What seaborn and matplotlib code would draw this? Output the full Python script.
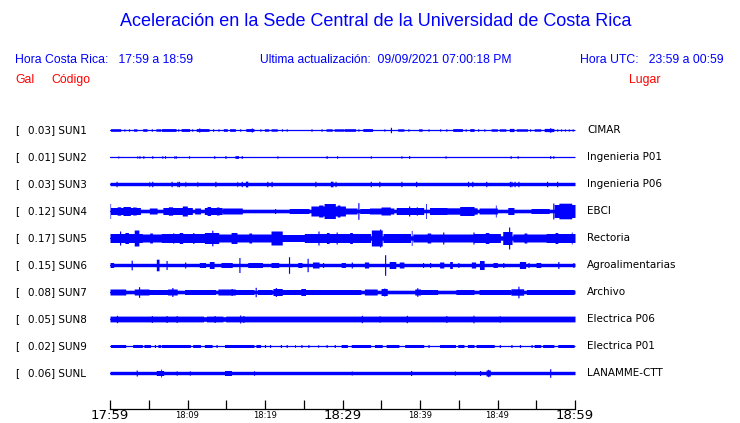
import numpy as np
import pandas as pd
import matplotlib
matplotlib.use("Agg")
import matplotlib.pyplot as plt
import seaborn as sns

# ---------------- data ----------------
title = "Aceleración en la Sede Central de la Universidad de Costa Rica"
hdr_local = "Hora Costa Rica:   17:59 a 18:59"
hdr_update = "Ultima actualización:  09/09/2021 07:00:18 PM"
hdr_utc = "Hora UTC:   23:59 a 00:59"

codes = ["SUN1", "SUN2", "SUN3", "SUN4", "SUN5", "SUN6", "SUN7", "SUN8", "SUN9", "SUNL"]
gals = [0.03, 0.01, 0.03, 0.12, 0.17, 0.15, 0.08, 0.05, 0.02, 0.06]
places = ["CIMAR", "Ingenieria P01", "Ingenieria P06", "EBCI", "Rectoria",
          "Agroalimentarias", "Archivo", "Electrica P06", "Electrica P01", "LANAMME-CTT"]

tick_minutes = list(range(0, 61, 5))
tick_labels = ["17:59", "", "18:09", "", "18:19", "", "18:29", "", "18:39", "", "18:49", "", "18:59"]

# quiet-level half amplitude of each trace (px-scale units)
base_amp = [0.5, 0.5, 1.7, 1.8, 2.2, 1.7, 1.8, 2.3, 0.5, 1.7]

# bursts: (start minute, end minute, half amplitude) read from the record
sun1_bursts = [(0.13, 1.29, 1.3), (1.85, 1.85, 1.2), (2.45, 2.45, 1.2), (3.1, 3.4, 1.2), (4.3, 4.7, 1.3),
               (5.4, 5.4, 1.2), (6.0, 6.45, 1.2), (6.67, 8.47, 1.4), (8.8, 8.8, 1.2), (9.25, 10.2, 1.4),
               (10.6, 10.6, 1.2), (11.2, 12.7, 1.4), (11.53, 11.53, 2.3), (13.3, 13.3, 1.2), (14.0, 14.0, 1.2),
               (14.7, 15.05, 1.3), (15.5, 16.1, 1.3), (16.8, 16.8, 1.2), (17.6, 18.5, 1.4), (18.3, 18.3, 2.0),
               (19.4, 19.4, 1.2), (20.0, 20.4, 1.2), (20.86, 21.5, 1.2), (22.2, 22.2, 1.2), (22.8, 22.8, 1.2),
               (26.0, 26.0, 1.2), (27.3, 27.3, 1.2), (27.96, 28.6, 1.2), (29.0, 30.1, 1.2), (30.3, 31.6, 1.3),
               (32.05, 32.05, 1.2), (32.7, 33.8, 1.4), (35.4, 35.4, 1.2), (36.26, 36.26, 2.7), (37.2, 37.85, 1.2),
               (38.5, 38.5, 1.2), (39.9, 40.2, 1.2), (41.1, 41.1, 1.2), (42.6, 42.6, 1.2), (43.4, 43.4, 1.2),
               (44.3, 45.4, 1.4), (45.9, 45.9, 1.2), (46.5, 46.9, 1.4), (47.5, 47.5, 1.2), (48.3, 48.3, 1.2),
               (49.25, 49.9, 1.2), (50.3, 51.0, 1.2), (51.6, 52.05, 1.6), (52.5, 53.8, 1.2), (54.2, 54.2, 1.2),
               (54.8, 55.5, 1.2), (56.1, 57.2, 1.6), (56.8, 56.8, 2.3), (57.7, 57.7, 1.1), (58.2, 58.2, 1.1),
               (58.7, 58.7, 1.1), (59.2, 59.2, 1.1), (59.7, 59.7, 1.1)]

sun2_bursts = [(1.07, 1.07, 1.2), (3.53, 3.53, 1.3), (3.8, 3.8, 1.3), (4.3, 4.3, 1.3), (5.46, 5.46, 1.3),
               (6.75, 6.75, 1.2), (7.1, 7.1, 1.3), (8.3, 8.3, 1.2), (8.5, 8.5, 1.2), (10.2, 10.2, 1.2),
               (13.46, 13.46, 1.3), (14.9, 14.9, 1.4), (16.2, 16.5, 1.4), (17.0, 17.0, 1.4), (21.6, 21.6, 1.2),
               (27.96, 27.96, 1.4), (29.3, 29.3, 1.2), (33.64, 33.64, 1.2), (37.6, 37.6, 1.2), (38.6, 38.6, 1.4),
               (43.3, 43.3, 1.2), (51.7, 51.7, 1.3), (52.6, 52.6, 1.3), (56.8, 56.8, 1.4), (57.2, 57.2, 1.3)]

sun3_bursts = [(0.86, 0.86, 2.7), (5.08, 5.08, 2.7), (5.46, 5.46, 2.7), (7.96, 7.96, 2.7), (8.69, 8.69, 2.7),
               (8.9, 8.9, 2.7), (9.72, 9.72, 2.7), (11.27, 11.27, 2.7), (13.6, 13.6, 2.7), (16.43, 16.43, 2.7),
               (17.0, 17.0, 2.7), (17.55, 17.7, 2.9), (20.3, 20.3, 2.7), (20.86, 20.86, 2.7), (26.5, 26.5, 2.7),
               (28.5, 28.7, 2.8), (29.1, 29.1, 2.7), (33.64, 33.64, 2.7), (34.75, 34.75, 2.7), (37.6, 37.6, 2.7),
               (39.5, 39.5, 2.7), (46.2, 46.2, 2.7), (46.76, 46.76, 2.7), (48.56, 48.56, 2.7), (51.6, 51.6, 2.7),
               (51.8, 51.8, 2.7), (52.2, 52.2, 2.7), (52.7, 52.7, 2.7), (56.4, 56.4, 2.7), (57.7, 57.7, 2.7)]

sun4_bursts = [(0.0, 0.0, 7.5), (0.13, 3.87, 3.5), (1.0, 1.3, 4.2), (1.72, 2.58, 4.5), (3.0, 3.3, 4.0),
               (5.16, 6.02, 3.0), (6.88, 10.54, 3.5), (7.6, 8.0, 4.2), (9.4, 9.9, 5.0), (10.97, 11.6, 3.0),
               (12.26, 14.4, 3.5), (12.6, 12.9, 4.5), (13.8, 14.0, 4.0), (14.6, 17.0, 3.0), (21.3, 21.3, 2.5),
               (23.2, 25.6, 2.5), (26.0, 30.3, 5.0), (27.0, 27.4, 6.0), (27.7, 29.0, 7.5), (29.4, 29.6, 6.0),
               (29.68, 31.8, 3.0), (32.05, 32.05, 8.3), (32.3, 33.55, 2.5), (33.55, 36.56, 3.0), (35.05, 36.1, 4.0),
               (37.0, 40.4, 3.5), (38.6, 38.6, 5.0), (39.57, 39.57, 4.5), (40.78, 40.78, 7.5), (41.3, 43.4, 3.5),
               (43.4, 47.3, 3.2), (45.2, 46.9, 4.5), (47.7, 49.9, 3.0), (49.77, 49.77, 6.0), (51.4, 52.05, 3.5),
               (54.4, 56.6, 2.5), (57.2, 57.2, 8.0), (57.4, 60.0, 6.5), (58.0, 59.5, 7.8)]

sun5_bursts = [(0.0, 4.09, 4.5), (1.29, 1.29, 7.0), (2.0, 2.3, 5.5), (3.2, 3.66, 8.0), (4.09, 6.67, 4.0),
               (5.2, 5.4, 5.0), (6.67, 12.26, 4.5), (8.17, 8.17, 5.5), (9.0, 9.3, 5.5), (10.75, 10.75, 5.5),
               (12.26, 13.98, 5.5), (13.2, 13.2, 7.8), (13.98, 20.86, 4.0), (15.7, 16.3, 5.5), (18.0, 18.2, 5.0),
               (20.86, 22.15, 7.0), (22.15, 25.16, 3.5), (25.16, 30.3, 4.5), (26.9, 26.9, 7.0), (28.0, 28.2, 5.5),
               (29.25, 29.25, 6.0), (29.68, 33.55, 4.5), (31.0, 31.2, 5.5), (33.77, 35.06, 8.0), (34.84, 34.84, 9.0),
               (35.3, 38.7, 4.5), (38.93, 38.93, 7.5), (39.14, 46.9, 4.0), (41.0, 41.3, 5.0), (43.0, 43.0, 6.0),
               (46.9, 46.9, 6.0), (46.9, 50.3, 4.5), (48.5, 48.8, 5.5), (50.76, 51.83, 6.5), (51.5, 51.5, 11.0),
               (52.05, 56.35, 4.0), (53.5, 53.7, 5.0), (56.35, 60.0, 4.5), (57.5, 57.7, 5.5), (59.57, 59.57, 6.0)]

sun6_bursts = [(0.0, 0.43, 2.5), (2.8, 2.8, 4.8), (6.02, 6.24, 5.8), (7.3, 7.3, 4.5), (9.7, 9.7, 3.0),
               (11.6, 12.26, 2.5), (12.9, 13.35, 3.5), (14.4, 15.7, 2.5), (16.7, 16.7, 7.5), (17.85, 19.6, 2.5),
               (20.86, 21.7, 2.5), (23.1, 23.1, 8.3), (24.3, 24.7, 2.5), (25.5, 25.5, 6.7), (26.2, 26.9, 3.0),
               (27.5, 27.5, 2.5), (29.9, 30.3, 2.5), (31.2, 31.2, 3.0), (32.9, 33.3, 3.0), (35.5, 35.5, 10.3),
               (36.1, 36.8, 3.5), (37.4, 37.85, 3.0), (40.4, 40.4, 2.5), (41.3, 41.3, 2.5), (42.6, 43.0, 3.0),
               (43.9, 44.1, 3.5), (44.95, 44.95, 2.5), (46.7, 47.1, 3.0), (47.75, 48.2, 4.5), (49.5, 49.9, 2.5),
               (50.76, 50.76, 2.5), (52.9, 53.55, 3.5), (54.0, 54.0, 2.5), (55.05, 55.5, 2.5), (57.85, 57.85, 3.5),
               (59.8, 59.8, 2.5)]

sun7_bursts = [(0.0, 1.94, 3.0), (3.2, 4.95, 3.0), (3.74, 3.74, 5.3), (4.95, 7.5, 2.5), (7.5, 8.6, 3.0),
               (8.04, 8.04, 4.5), (9.7, 13.55, 2.5), (14.0, 16.1, 3.0), (15.7, 15.7, 3.5), (16.1, 18.5, 2.5),
               (18.8, 18.8, 4.7), (19.1, 20.86, 2.5), (21.1, 22.15, 3.5), (21.4, 21.4, 4.5), (22.15, 24.7, 2.5),
               (24.7, 25.16, 3.5), (25.16, 30.3, 2.5), (29.68, 32.3, 2.5), (32.9, 34.4, 3.0), (35.06, 35.7, 3.5),
               (35.4, 35.4, 4.0), (39.4, 40.0, 3.0), (39.66, 39.66, 4.3), (40.0, 42.2, 2.5), (44.7, 46.9, 2.5),
               (47.7, 51.6, 2.5), (51.8, 53.3, 3.2), (52.7, 52.7, 5.8), (53.8, 59.8, 2.5)]

sun8_bursts = [(0.0, 12.0, 2.9), (0.9, 0.9, 3.7), (5.4, 5.4, 3.5), (7.3, 7.3, 3.5), (8.6, 8.6, 3.5),
               (12.5, 14.5, 2.9), (13.5, 13.5, 3.5), (15.0, 30.3, 2.9), (16.8, 16.8, 4.0), (17.2, 17.2, 3.5),
               (29.68, 60.0, 2.9), (32.5, 32.5, 3.7), (34.8, 34.8, 3.3), (38.3, 38.3, 3.7), (43.4, 43.4, 3.5),
               (46.9, 46.9, 3.8), (50.3, 50.3, 3.3)]

sun9_bursts = [(0.13, 1.94, 1.5), (3.0, 4.09, 1.5), (4.43, 5.16, 1.5), (5.8, 5.8, 1.5), (6.24, 6.45, 1.5),
               (6.67, 10.3, 1.5), (10.75, 11.6, 1.5), (12.26, 13.1, 1.5), (13.76, 13.76, 1.5), (14.84, 18.5, 1.5),
               (18.9, 19.35, 1.5), (20.0, 20.0, 1.5), (20.65, 20.65, 1.5), (22.06, 22.06, 1.5), (22.8, 22.8, 1.5),
               (23.87, 23.87, 1.5), (24.7, 24.7, 1.5), (25.6, 25.6, 1.5), (26.88, 26.88, 1.5), (27.96, 27.96, 1.5),
               (29.0, 29.0, 1.5), (29.9, 30.54, 1.5), (31.2, 33.55, 1.5), (34.2, 35.06, 1.5), (35.7, 37.2, 1.5),
               (38.07, 40.4, 1.5), (41.1, 41.1, 1.5), (42.6, 44.5, 1.5), (44.95, 45.6, 1.5), (46.2, 46.9, 1.5),
               (47.3, 49.5, 1.5), (50.3, 50.3, 1.5), (51.8, 51.8, 1.5), (52.9, 52.9, 1.5), (54.4, 54.4, 1.5),
               (54.8, 55.5, 1.5), (55.9, 57.2, 1.5), (57.85, 59.8, 1.5)]

sunl_bursts = [(3.44, 3.44, 3.0), (6.02, 6.88, 2.5), (6.58, 6.58, 4.0), (8.6, 8.6, 2.2), (10.3, 10.3, 2.2),
               (14.84, 15.6, 2.5), (18.58, 18.58, 2.5), (31.2, 31.2, 2.0), (38.84, 38.84, 2.5), (44.5, 44.5, 2.2),
               (47.75, 47.75, 2.5), (48.6, 49.0, 3.0), (48.8, 48.8, 3.7), (56.8, 56.8, 4.3)]

all_bursts = [sun1_bursts, sun2_bursts, sun3_bursts, sun4_bursts, sun5_bursts,
              sun6_bursts, sun7_bursts, sun8_bursts, sun9_bursts, sunl_bursts]

# ---------------- drawing ----------------
BLUE = "#0000ff"
RED = "#ff0000"
W, H = 740, 423
PX_PER_TRACE = 27.0

sns.set_style("white")
plt.rcParams["font.family"] = ["DejaVu Sans"]

fig = plt.figure(figsize=(W / 100, H / 100), dpi=100)
fig.patch.set_facecolor("white")
ax = fig.add_axes([110 / W, (H - 409) / H, 465 / W, 294 / H])
ax.set_facecolor("white")

t = np.linspace(0, 60, 1201)


def envelope(base, bursts):
    env = np.full_like(t, base)
    for s, e, a in bursts:
        m = (t >= s - 0.065) & (t <= e + 0.065)
        env[m] = np.maximum(env[m], a)
    return env


rows = []
for i, (code, base, bursts) in enumerate(zip(codes, base_amp, all_bursts)):
    y0 = -i
    env = envelope(base, bursts) / PX_PER_TRACE
    ax.fill_between(t, y0 - env, y0 + env, step="mid", color=BLUE, lw=0)
    rows.append(pd.DataFrame({"minute": [0, 60], "level": [y0, y0], "station": code}))

df = pd.concat(rows, ignore_index=True)
sns.lineplot(data=df, x="minute", y="level", hue="station", palette=[BLUE] * len(codes),
             legend=False, lw=0.9, ax=ax, estimator=None)

ax.set_xlim(0, 60)
ax.set_ylim(-9 - 36 / PX_PER_TRACE, 15 / PX_PER_TRACE)
for s in ["top", "left", "right"]:
    ax.spines[s].set_visible(False)
ax.spines["bottom"].set_color("black")
ax.spines["bottom"].set_linewidth(0.9)
ax.set_yticks([])
ax.set_xlabel("")
ax.set_ylabel("")
ax.set_xticks(tick_minutes)
ax.set_xticklabels(tick_labels)
ax.tick_params(axis="x", which="major", bottom=True, direction="in", length=6.5, width=0.9,
               color="black", pad=5)
for lab, txt in zip(ax.get_xticklabels(), tick_labels):
    lab.set_verticalalignment("center")
    lab.set_fontsize(9.5 if txt in ("17:59", "18:29", "18:59") else 6)
    lab.set_color("black")


def ftext(x, y, s, **kw):
    fig.text(x / W, 1 - y / H, s, va="center", **kw)


hdr_font = ["Liberation Sans", "DejaVu Sans"]
ftext(376, 22, title, ha="center", color=BLUE, fontsize=13.0, family=hdr_font)
ftext(15, 60, hdr_local, ha="left", color=BLUE, fontsize=8.8, family=hdr_font)
ftext(260, 60, hdr_update, ha="left", color=BLUE, fontsize=8.7, family=hdr_font)
ftext(580, 60, hdr_utc, ha="left", color=BLUE, fontsize=8.8, family=hdr_font)
ftext(15, 80, "Gal", ha="left", color=RED, fontsize=8.8, family=hdr_font)
ftext(51, 80, "Código", ha="left", color=RED, fontsize=8.8, family=hdr_font)
ftext(629, 80, "Lugar", ha="left", color=RED, fontsize=8.8, family=hdr_font)

for i, (code, g, place) in enumerate(zip(codes, gals, places)):
    yc = 130 + i * PX_PER_TRACE
    ftext(15, yc, "[", ha="left", color="black", fontsize=7.5)
    ftext(27.5, yc, f"{g:.2f}] {code}", ha="left", color="black", fontsize=7.5)
    ftext(587, yc, place, ha="left", color="black", fontsize=7.5)

fig.savefig("out.png", dpi=100, facecolor="white")
